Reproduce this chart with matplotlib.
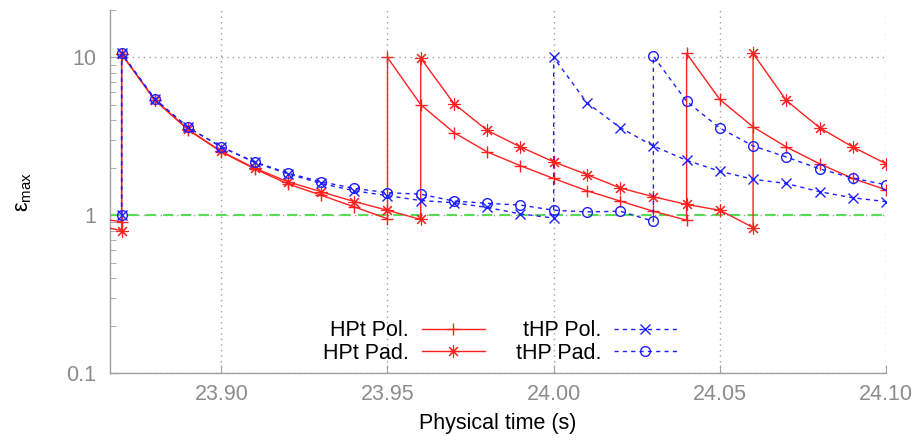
import numpy as np
import matplotlib
matplotlib.use("Agg")
import matplotlib.pyplot as plt
from matplotlib.ticker import FixedLocator, LogLocator, NullFormatter

plt.rcParams['font.family'] = ['Liberation Sans', 'DejaVu Sans']
plt.rcParams['mathtext.fontset'] = 'custom'
plt.rcParams['mathtext.rm'] = 'Liberation Sans'

# Datos (los tiempos repetidos son los reinicios)
t_hpt_pol = [23.86, 23.87, 23.87, 23.88, 23.89, 23.90, 23.91, 23.92, 23.93, 23.94, 23.95, 23.95,
             23.96, 23.97, 23.98, 23.99, 24.00, 24.01, 24.02, 24.03, 24.04, 24.04, 24.05, 24.06,
             24.07, 24.08, 24.09, 24.10]
e_hpt_pol = [0.97, 0.91, 10.5, 5.35, 3.48, 2.52, 1.97, 1.58, 1.34, 1.13, 0.95, 10.0,
             5.02, 3.34, 2.52, 2.06, 1.71, 1.43, 1.23, 1.06, 0.93, 10.6, 5.42, 3.63,
             2.71, 2.12, 1.71, 1.45]

t_hpt_pad = [23.86, 23.87, 23.87, 23.88, 23.89, 23.90, 23.91, 23.92, 23.93, 23.94, 23.95, 23.96,
             23.96, 23.97, 23.98, 23.99, 24.00, 24.01, 24.02, 24.03, 24.04, 24.05, 24.06, 24.06,
             24.07, 24.08, 24.09, 24.10]
e_hpt_pad = [0.88, 0.80, 10.5, 5.4, 3.5, 2.54, 1.99, 1.63, 1.41, 1.22, 1.076, 0.94,
             9.9, 5.1, 3.45, 2.71, 2.18, 1.81, 1.49, 1.31, 1.17, 1.076, 0.836, 10.6,
             5.34, 3.59, 2.71, 2.12]

t_thp_pol = [23.87, 23.87, 23.88, 23.89, 23.90, 23.91, 23.92, 23.93, 23.94, 23.95, 23.96, 23.97,
             23.98, 23.99, 24.00, 24.00, 24.01, 24.02, 24.03, 24.04, 24.05, 24.06, 24.07, 24.08,
             24.09, 24.10]
e_thp_pol = [1.0, 10.6, 5.45, 3.6, 2.71, 2.16, 1.83, 1.59, 1.43, 1.33, 1.24, 1.2,
             1.12, 1.02, 0.96, 10.0, 5.17, 3.59, 2.75, 2.23, 1.90, 1.69, 1.59, 1.41,
             1.29, 1.22]

t_thp_pad = [23.87, 23.87, 23.88, 23.89, 23.90, 23.91, 23.92, 23.93, 23.94, 23.95, 23.96, 23.97,
             23.98, 23.99, 24.00, 24.01, 24.02, 24.03, 24.03, 24.04, 24.05, 24.06, 24.07, 24.08,
             24.09, 24.10]
e_thp_pad = [1.0, 10.6, 5.45, 3.6, 2.71, 2.18, 1.85, 1.63, 1.48, 1.39, 1.36, 1.23,
             1.19, 1.16, 1.076, 1.05, 1.06, 0.916, 10.2, 5.27, 3.57, 2.75, 2.34, 1.97,
             1.72, 1.56]

umbral = 1.0
xticks = [23.90, 23.95, 24.00, 24.05, 24.10]

gris = '#8c8c8c'
rojo = '#ff2020'
azul = '#1f1fff'

fig = plt.figure(figsize=(9.15, 4.47), dpi=100)
ax = fig.add_axes([110 / 915, 74 / 447, 776 / 915, 363 / 447])

ax.axhline(umbral, color='#55dd55', lw=1.5, dashes=(5, 3.5), zorder=2)

ax.plot(t_hpt_pol, e_hpt_pol, color=rojo, lw=1, marker='+', ms=9, mew=1,
        label='HPt Pol.', zorder=3)
ax.plot(t_hpt_pad, e_hpt_pad, color=rojo, lw=1, marker=(8, 2, 0), ms=9, mew=0.8,
        label='HPt Pad.', zorder=3)
ax.plot(t_thp_pol, e_thp_pol, color=azul, lw=1, dashes=(3, 3), marker='x', ms=7.5, mew=1,
        label='tHP Pol.', zorder=4)
ax.plot(t_thp_pad, e_thp_pad, color=azul, lw=1, dashes=(3, 3), marker='o', ms=7, mew=1,
        mfc='none', label='tHP Pad.', zorder=4)

# Ejes
ax.set_yscale('log')
ax.set_ylim(0.1, 20)
ax.set_xlim(23.8665, 24.10)
ax.xaxis.set_major_locator(FixedLocator(xticks))
ax.set_xticklabels(['%.2f' % v for v in xticks])
ax.yaxis.set_major_locator(FixedLocator([0.1, 1, 10]))
ax.set_yticklabels(['0.1', '1', '10'])
ax.yaxis.set_minor_locator(LogLocator(base=10, subs=np.arange(2, 10)))
ax.yaxis.set_minor_formatter(NullFormatter())

for lado in ['top', 'right']:
    ax.spines[lado].set_visible(False)
for lado in ['left', 'bottom']:
    ax.spines[lado].set_color('#a0a0a0')
    ax.spines[lado].set_linewidth(1)

ax.tick_params(axis='both', which='both', direction='in', colors='#a0a0a0',
               labelcolor=gris, labelsize=15.5)
ax.tick_params(axis='x', which='major', length=6, pad=8)
ax.tick_params(axis='y', which='major', length=6, pad=10)
ax.tick_params(axis='y', which='minor', length=4)

ax.grid(True, which='major', color='#a0a0a0', linestyle=(0, (1, 3)), lw=1)

ax.set_xlabel('Physical time (s)', fontsize=15.5, labelpad=6)
ax.set_ylabel('ε$_\\mathregular{max}$', fontsize=15.5)
ax.yaxis.set_label_coords(-0.098, 0.5)

ax.legend(ncol=2, frameon=False, markerfirst=False, fontsize=15.5,
          handlelength=2.9, handletextpad=0.6, columnspacing=1.45, labelspacing=0.05,
          loc='center', bbox_to_anchor=(500 / 915, (447 - 342) / 447),
          bbox_transform=fig.transFigure)

plt.savefig('out.png', dpi=100)
